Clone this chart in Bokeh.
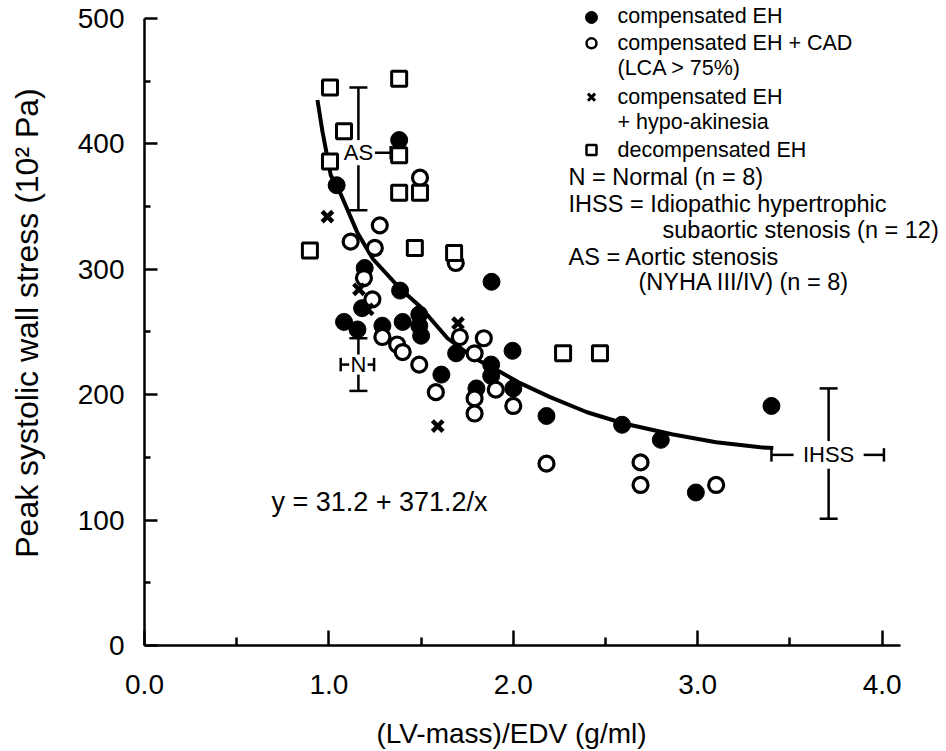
from bokeh.plotting import figure
from bokeh.models import FixedTicker, Range1d, Label, LinearAxis
from bokeh.core.properties import value
from bokeh.embed import file_html
from bokeh.resources import INLINE

# ---------------- data ----------------
comp_eh_x = [1.042, 1.381, 1.194, 1.386, 1.18, 1.082, 1.155, 1.29, 1.40, 1.49, 1.49, 1.50,
             1.882, 1.996, 1.69, 1.61, 1.88, 1.88, 1.80, 2.00, 2.18, 2.59, 2.80, 2.99, 3.40]
comp_eh_y = [367, 403, 301, 283, 269, 258, 252, 255, 258, 264, 255, 247,
             290, 235, 233, 216, 224, 215, 205, 205, 183, 176, 164, 122, 191]

cad_x = [1.276, 1.118, 1.249, 1.688, 1.19, 1.236, 1.29, 1.37, 1.40, 1.49, 1.58, 1.71,
         1.79, 1.84, 1.905, 1.79, 1.79, 2.00, 1.494, 2.18, 2.69, 2.69, 3.10]
cad_y = [335, 322, 317, 305, 293, 276, 246, 240, 234, 224, 202, 246,
         233, 245, 204, 197, 185, 191, 373, 145, 146, 128, 128]

hypo_x = [0.992, 1.163, 1.21, 1.70, 1.59]
hypo_y = [342, 284, 268, 257, 175]

decomp_x = [1.006, 1.381, 1.082, 1.381, 1.006, 1.381, 1.494, 0.897, 1.466, 1.679, 2.27, 2.47]
decomp_y = [445, 452, 410, 391, 386, 361, 361, 315, 317, 313, 233, 233]

curve_x = [0.938, 0.965, 0.983, 1.01, 1.064, 1.155, 1.24, 1.39, 1.49, 1.643, 1.79, 1.93,
           2.04, 2.20, 2.40, 2.60, 2.86, 3.10, 3.34, 3.41]
curve_y = [435, 410, 396, 375, 360, 329, 308, 284, 271, 245, 229, 218,
           209, 198, 186, 177, 168.5, 162, 158, 157.5]

group_labels = ["AS", "N", "IHSS"]
group_x = [1.16, 1.16, 3.71]
group_y = [393, 224, 152]
group_x_lo = [1.16, 1.064, 3.40]
group_x_hi = [1.335, 1.245, 4.01]
group_y_lo = [347, 203, 101]
group_y_hi = [445, 245, 205]

equation = "y = 31.2 + 371.2/x"

x_ticks = [0, 1, 2, 3, 4]
x_minor = [0.5, 1.5, 2.5, 3.5]
x_tick_labels = ["0.0", "1.0", "2.0", "3.0", "4.0"]
y_ticks = [0, 100, 200, 300, 400, 500]
y_minor = [50, 150, 250, 350, 450]
x_title = "(LV-mass)/EDV (g/ml)"
y_title = "Peak systolic wall stress (10\u00b2 Pa)"

legend_lines = ["compensated EH", "compensated EH + CAD", "(LCA > 75%)", "compensated EH",
                "+ hypo-akinesia", "decompensated EH", "N = Normal (n = 8)",
                "IHSS = Idiopathic hypertrophic", "subaortic stenosis (n = 12)",
                "AS = Aortic stenosis", "(NYHA III/IV) (n = 8)"]

# ---------------- layout ----------------
W, H = 946, 751
LEFT, RIGHT, BOTTOM, TOP = 144, 0, 104, 0
AXIS_X_END, AXIS_Y_END = 4.1, 500
PX_X = 184.4                    # pixels per x unit
FRAME_W = W - LEFT - RIGHT
FRAME_H = H - BOTTOM - TOP
X_END = FRAME_W / PX_X
Y0_PX, Y500_PX = 647, 18        # where 0 and 500 sit (from top)
PX_Y = (Y0_PX - Y500_PX) / 500.0
Y_END = FRAME_H / PX_Y
X_TITLE_CENTER_PX = 511
FONT = "Liberation Sans"


def px2x(px):
    return (px - LEFT) / PX_X


def px2y(py):
    return (FRAME_H + TOP - py) / PX_Y


p = figure(width=W, height=H, output_backend="svg", toolbar_location=None,
           x_range=Range1d(0, X_END), y_range=Range1d(0, Y_END),
           min_border_left=LEFT, min_border_right=RIGHT, min_border_top=TOP,
           min_border_bottom=BOTTOM)
p.outline_line_color = None
p.grid.visible = False
p.background_fill_color = "white"
p.border_fill_color = "white"

for ax in (p.xaxis[0], p.yaxis[0]):
    ax.axis_line_width = 2.5
    ax.axis_line_color = "black"
    ax.major_tick_line_width = 2.5
    ax.minor_tick_line_width = 2.5
    ax.major_tick_line_color = "black"
    ax.minor_tick_line_color = "black"
    ax.major_tick_out = 0
    ax.minor_tick_out = 0
    ax.major_label_text_font = FONT
    ax.major_label_text_font_size = "28px"
    ax.major_label_text_color = "black"
    ax.axis_label_text_font = FONT
    ax.axis_label_text_font_style = "normal"
    ax.axis_label_text_color = "black"

xa = p.xaxis[0]
xa.bounds = (0, AXIS_X_END)
xa.ticker = FixedTicker(ticks=x_ticks, minor_ticks=x_minor)
xa.major_label_overrides = {t: l for t, l in zip(x_ticks, x_tick_labels)}
xa.major_tick_in = 15
xa.minor_tick_in = 8
xa.major_label_standoff = 29

# x-axis title: drawn as a second, bare axis so it can sit centred under the ruled axis
title_pos = px2x(X_TITLE_CENTER_PX)
xt = LinearAxis(ticker=FixedTicker(ticks=[title_pos], minor_ticks=[]),
                major_label_overrides={title_pos: x_title},
                axis_line_color=None, major_tick_line_color=None, minor_tick_line_color=None,
                major_tick_in=0, major_tick_out=0, minor_tick_in=0, minor_tick_out=0,
                major_label_standoff=21, major_label_text_font=FONT,
                major_label_text_font_size="28px", major_label_text_color="black")
p.add_layout(xt, "below")

ya = p.yaxis[0]
ya.bounds = (0, AXIS_Y_END)
ya.ticker = FixedTicker(ticks=y_ticks, minor_ticks=y_minor)
ya.major_tick_in = 13
ya.minor_tick_in = 6
ya.major_label_standoff = 20
ya.axis_label = y_title
ya.axis_label_text_font_size = "32px"
ya.axis_label_standoff = 30

# regression curve
p.line(curve_x, curve_y, line_color="black", line_width=4)

# points
p.scatter(comp_eh_x, comp_eh_y, marker="circle", size=17, fill_color="black", line_color="black")
p.scatter(cad_x, cad_y, marker="circle", size=15, fill_color="white", line_color="black", line_width=3.2)
p.scatter(decomp_x, decomp_y, marker="square", size=15, fill_color="white", line_color="black", line_width=3)
p.scatter(hypo_x, hypo_y, marker="x", size=15, line_color="black", line_width=4.5)

# group error bars with gaps around their labels
gap_x = [0.09, 0.05, 0.19]
gap_y = [10, 8, 11]
cap_px = 9
seg = dict(x0=[], y0=[], x1=[], y1=[])


def add(x0, y0, x1, y1):
    seg["x0"].append(x0); seg["y0"].append(y0); seg["x1"].append(x1); seg["y1"].append(y1)


for i in range(len(group_labels)):
    cx, cy = group_x[i], group_y[i]
    hx = cap_px / PX_X
    hy = cap_px / PX_Y * 0.75
    if group_y_hi[i] > cy + gap_y[i]:
        add(cx, cy + gap_y[i], cx, group_y_hi[i])
        add(cx - hx, group_y_hi[i], cx + hx, group_y_hi[i])
    if group_y_lo[i] < cy - gap_y[i]:
        add(cx, cy - gap_y[i], cx, group_y_lo[i])
        add(cx - hx, group_y_lo[i], cx + hx, group_y_lo[i])
    if group_x_hi[i] > cx + gap_x[i]:
        add(cx + gap_x[i], cy, group_x_hi[i], cy)
        add(group_x_hi[i], cy - hy, group_x_hi[i], cy + hy)
    if group_x_lo[i] < cx - gap_x[i]:
        add(cx - gap_x[i], cy, group_x_lo[i], cy)
        add(group_x_lo[i], cy - hy, group_x_lo[i], cy + hy)

p.segment(x0=seg["x0"], y0=seg["y0"], x1=seg["x1"], y1=seg["y1"], line_color="black", line_width=2.5)
p.text(x=group_x, y=group_y, text=group_labels, text_font=value(FONT), text_font_size="22px",
       text_align="center", text_baseline="middle", text_color="black")

# equation
p.text(x=[px2x(379)], y=[px2y(503)], text=[equation], text_font=value(FONT), text_font_size="27px",
       text_align="center", text_baseline="middle", text_color="black")

# legend (markers + texts)
mk_y = [17, 43, 97, 150]
mk_x = [px2x(591)] * 4
mk_yd = [px2y(v) for v in mk_y]
p.scatter([mk_x[0]], [mk_yd[0]], marker="circle", size=12, fill_color="black", line_color="black")
p.scatter([mk_x[1]], [mk_yd[1]], marker="circle", size=10, fill_color="white", line_color="black", line_width=2.5)
p.scatter([mk_x[2]], [mk_yd[2]], marker="x", size=10, line_color="black", line_width=3)
p.scatter([mk_x[3]], [mk_yd[3]], marker="square", size=10, fill_color="white", line_color="black", line_width=2.5)

line_px_x = [617, 617, 617, 617, 617, 617, 568, 568, 662, 568, 638]
line_px_y = [16, 43, 68, 97, 122, 150, 177, 204, 230, 257, 282]
line_size = ["21.5px"] * 6 + ["23.5px"] * 5
for t, lx, ly, fs in zip(legend_lines, line_px_x, line_px_y, line_size):
    p.add_layout(Label(x=px2x(lx), y=px2y(ly), text=t, text_font=FONT, text_font_size=fs,
                       text_align="left", text_baseline="middle", text_color="black"))

open("out.html", "w").write(file_html(p, INLINE))
